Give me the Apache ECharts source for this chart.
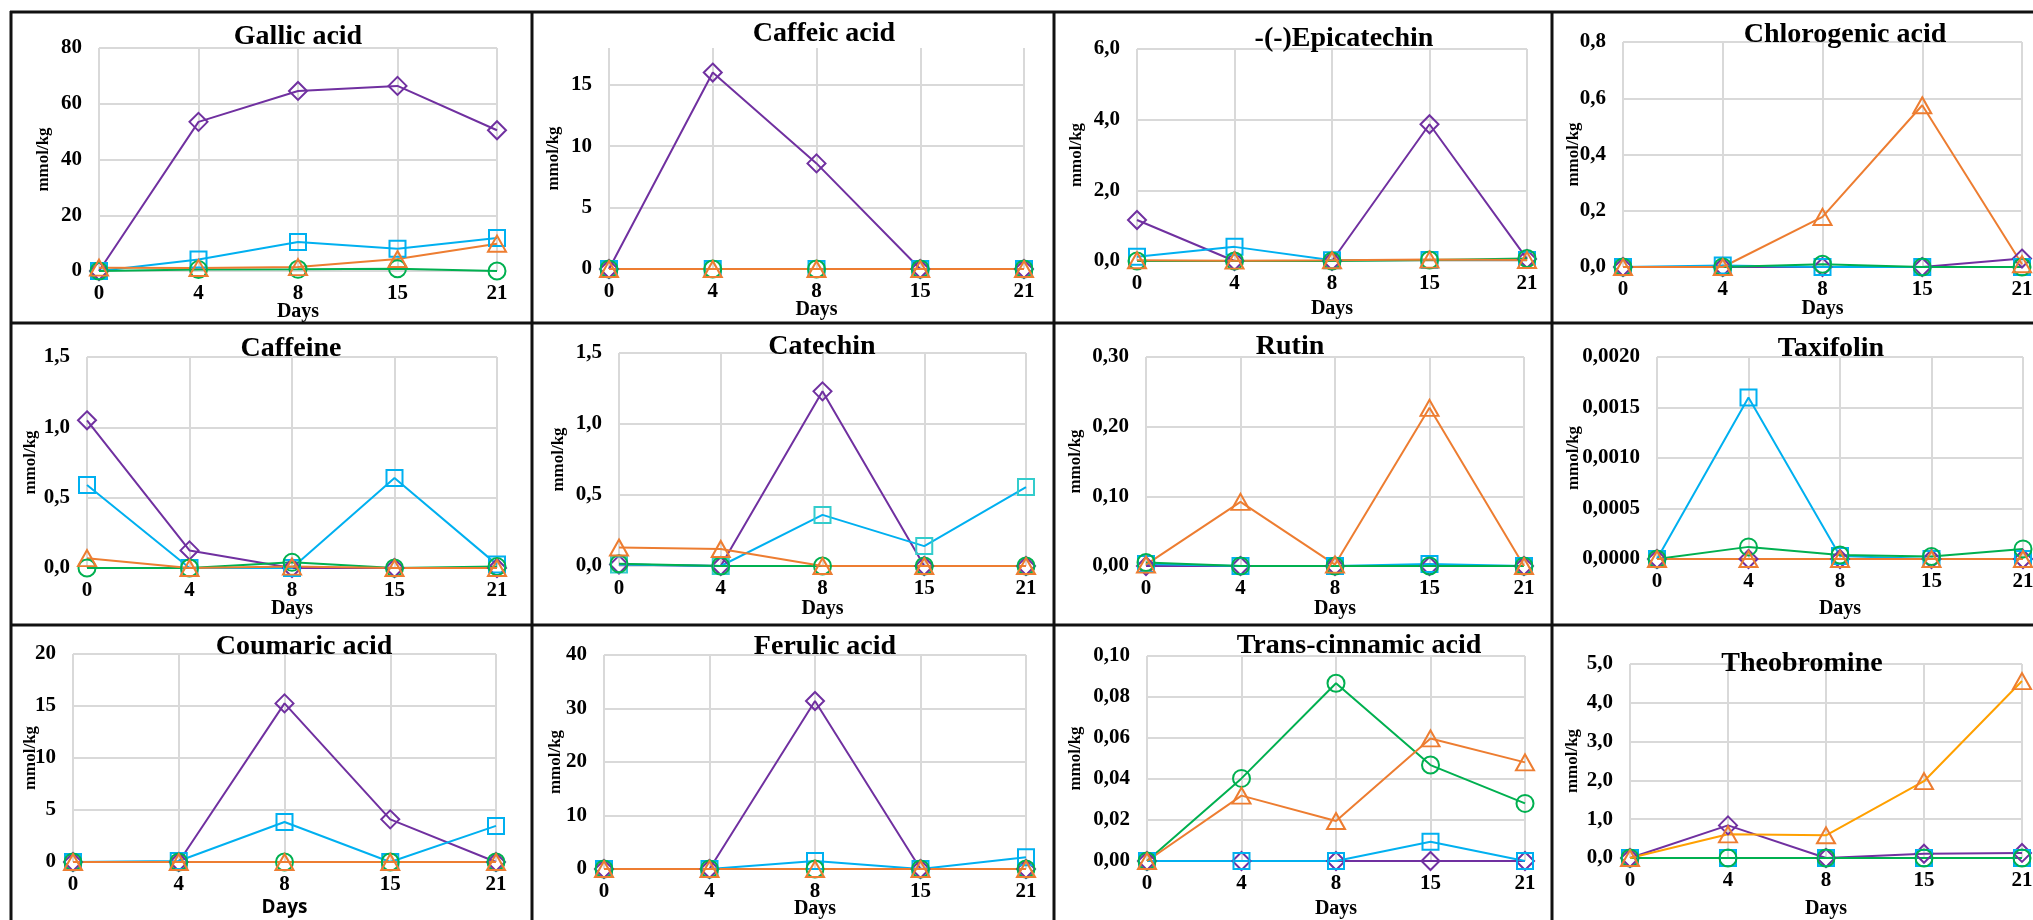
<!DOCTYPE html>
<html>
<head>
<meta charset="utf-8">
<script src="https://cdn.jsdelivr.net/npm/echarts@6/dist/echarts.min.js"></script>
<style>
html,body{margin:0;padding:0;background:#fff;}
#chart{width:2033px;height:920px;}
</style>
</head>
<body>
<div id="chart"></div>
<script>
// ---------- data ----------
const days = ['0', '4', '8', '15', '21'];
const compounds = ['Gallic acid', 'Caffeic acid', '-(-)Epicatechin', 'Chlorogenic acid',
  'Caffeine', 'Catechin', 'Rutin', 'Taxifolin',
  'Coumaric acid', 'Ferulic acid', 'Trans-cinnamic acid', 'Theobromine'];
const seriesKeys = ['purple', 'blue', 'orange', 'green'];
// each compound: [purple diamond, blue square, orange triangle, green circle]
const gallicAcid = [
  [0, 53.5, 64.6, 66.4, 50.5],
  [0, 4.1, 10.4, 8.0, 11.8],
  [1.2, 1.1, 1.4, 4.3, 9.8],
  [0, 0.5, 0.6, 0.8, 0]
];
const caffeicAcid = [
  [0, 16.0, 8.6, 0, 0],
  [0, 0, 0, 0, 0],
  [0, 0, 0, 0, 0],
  [0, 0, 0, 0, 0]
];
const epicatechin = [
  [1.16, 0, 0, 3.87, 0.06],
  [0.12, 0.40, 0.02, 0.03, 0.03],
  [0.02, 0.01, 0.02, 0.04, 0.03],
  [0, 0, 0, 0.03, 0.07]
];
const chlorogenicAcid = [
  [0, 0, 0, 0, 0.03],
  [0, 0.005, 0, 0, 0],
  [0, 0, 0.178, 0.575, 0.01],
  [0, 0, 0.01, 0, 0]
];
const caffeine = [
  [1.05, 0.125, 0, 0, 0],
  [0.59, 0, 0, 0.64, 0.024],
  [0.07, 0, 0.01, 0, 0],
  [0, 0, 0.04, 0, 0.01]
];
const catechin = [
  [0.01, 0, 1.23, 0, 0],
  [0.01, 0, 0.36, 0.14, 0.556],
  [0.13, 0.12, 0, 0, 0],
  [0.015, 0, 0, 0, 0]
];
const rutin = [
  [0, 0, 0, 0, 0],
  [0.003, 0, 0, 0.003, 0],
  [0.002, 0.092, 0.002, 0.227, 0],
  [0.005, 0, 0, 0, 0]
];
const taxifolin = [
  [0, 0, 0, 0, 0],
  [0, 0.0016, 0.00003, 0, 0],
  [0, 0, 0, 0, 0],
  [0, 0.00012, 0.00004, 0.000025, 0.0001]
];
const coumaricAcid = [
  [0, 0, 15.25, 4.1, 0],
  [0, 0.1, 3.85, 0, 3.47],
  [0, 0, 0, 0, 0],
  [0, 0, 0, 0, 0]
];
const ferulicAcid = [
  [0, 0, 31.4, 0, 0],
  [0, 0, 1.5, 0, 2.2],
  [0, 0, 0, 0, 0],
  [0, 0, 0, 0, 0]
];
const transCinnamicAcid = [
  [0, 0, 0, 0, 0],
  [0, 0, 0, 0.0094, 0],
  [0, 0.0319, 0.0195, 0.0598, 0.0481],
  [0, 0.0403, 0.0867, 0.0468, 0.0281]
];
const theobromine = [
  [0, 0.84, 0, 0.11, 0.13],
  [0, 0, 0, 0, 0],
  [0, 0.61, 0.585, 1.98, 4.56],
  [0, 0, 0, 0, 0]
];
const panelData = [gallicAcid, caffeicAcid, epicatechin, chlorogenicAcid,
  caffeine, catechin, rutin, taxifolin,
  coumaricAcid, ferulicAcid, transCinnamicAcid, theobromine];
// y axis ticks
const yMax = [80, 18, 6, 0.8, 1.5, 1.5, 0.3, 0.002, 20, 40, 0.1, 5];
const yStep = [20, 5, 2, 0.2, 0.5, 0.5, 0.1, 0.0005, 5, 10, 0.02, 1];
const yDecimals = [0, 0, 1, 1, 1, 1, 2, 4, 0, 0, 2, 1];
const yAxisTitle = 'mmol/kg';
const xAxisTitle = 'Days';

// ---------- layout & style ----------
const plotBox = [ // [left, right, top, bottom] in px
  [99, 497, 48, 271], [609, 1024, 48, 269], [1137, 1527, 49, 261], [1623, 2022, 42, 267],
  [87, 497, 357, 568], [619, 1026, 353, 566], [1146, 1524, 357, 566], [1657, 2023, 357, 559],
  [73, 496, 654, 862], [604, 1026, 655, 869], [1147, 1525, 656, 861], [1630, 2022, 664, 858]
];
const titlePos = [
  [298, 37], [824, 34], [1344, 39], [1845, 35],
  [291, 349], [822, 347], [1290, 347], [1831, 349],
  [304, 647], [825, 647], [1359, 646], [1802, 664]
];
const xNameGap = [31, 31, 38, 32, 31, 33, 33, 40, 36, 30, 38, 41];
const yNameGap = [47, 47, 52, 41, 48, 52, 62, 75, 34, 40, 63, 49];
const colors = {purple: '#7030A0', blue: '#00B0F0', orange: '#ED7D31', green: '#00B050'};
const symbols = {purple: 'diamond', blue: 'rect', orange: 'triangle', green: 'circle'};
const symbolSizes = {purple: 18, blue: 16, orange: [18, 16], green: 17};
const drawOrder = [0, 1, 3, 2];
const FONT = '"Liberation Serif", "Times New Roman", serif';
const GRID_COLOR = '#D9D9D9';

const option = {
  animation: false,
  backgroundColor: '#ffffff',
  grid: [], xAxis: [], yAxis: [], series: [], graphic: []
};

for (let i = 0; i < 12; i++) {
  const [l, r, t, b] = plotBox[i];
  option.grid.push({left: l, top: t, width: r - l, height: b - t, containLabel: false, outerBoundsMode: 'none'});
  option.xAxis.push({
    type: 'category', gridIndex: i, data: days, boundaryGap: false,
    axisLine: {show: false}, axisTick: {show: false},
    splitLine: {show: true, lineStyle: {color: GRID_COLOR, width: 2}},
    axisLabel: {color: '#000', fontFamily: FONT, fontWeight: 'bold', fontSize: 21, margin: 12},
    name: xAxisTitle, nameLocation: 'middle', nameGap: xNameGap[i], nameMoveOverlap: false,
    nameTextStyle: {color: '#000', fontFamily: i === 8 ? '"Open Sans", "Noto Sans", sans-serif' : FONT,
      fontWeight: 'bold', fontSize: i === 8 ? 19 : 20}
  });
  const dec = yDecimals[i];
  option.yAxis.push({
    type: 'value', gridIndex: i, min: 0, max: yMax[i], interval: yStep[i],
    axisLine: {show: false}, axisTick: {show: false},
    splitLine: {show: true, showMaxLine: i !== 1, lineStyle: {color: GRID_COLOR, width: 2}},
    axisLabel: {color: '#000', fontFamily: FONT, fontWeight: 'bold', fontSize: 21, margin: 17,
      showMaxLabel: i !== 1,
      formatter: v => (i === 1 && v > 15) ? '' : Number(v).toFixed(dec).replace('.', ',')},
    name: yAxisTitle, nameLocation: 'middle', nameRotate: 90, nameGap: yNameGap[i], nameMoveOverlap: false,
    nameTextStyle: {color: '#000', fontFamily: FONT, fontWeight: 'bold', fontSize: 17}
  });
  drawOrder.forEach(j => {
    const key = seriesKeys[j];
    let lineColor = colors[key];
    let markColor = colors[key];
    if (i === 11 && key === 'orange') lineColor = '#FFA000';
    if (i === 5 && key === 'blue') markColor = '#33CCCC';
    option.series.push({
      type: 'line', name: key, xAxisIndex: i, yAxisIndex: i,
      data: panelData[i][j],
      symbol: symbols[key], symbolSize: symbolSizes[key], showAllSymbol: true,
      clip: false, silent: true,
      lineStyle: {color: lineColor, width: 2},
      itemStyle: {color: 'rgba(255,255,255,0)', borderColor: markColor, borderWidth: 2},
      emphasis: {disabled: true}
    });
  });
  option.graphic.push({
    type: 'text', x: titlePos[i][0], y: titlePos[i][1], z: 100,
    style: {text: compounds[i], align: 'center', verticalAlign: 'middle',
      font: 'bold 28px ' + FONT, fill: '#000'}
  });
}
// panel borders
const hLines = [12, 323, 625];
const vLines = [11, 532, 1054, 1552];
hLines.forEach(y => option.graphic.push({type: 'line', shape: {x1: 10, y1: y, x2: 2033, y2: y},
  style: {stroke: '#111', lineWidth: 3}, z: 90}));
vLines.forEach(x => option.graphic.push({type: 'line', shape: {x1: x, y1: 11, x2: x, y2: 920},
  style: {stroke: '#111', lineWidth: 3}, z: 90}));

const chart = echarts.init(document.getElementById('chart'), null, {renderer: 'canvas'});
chart.setOption(option);
</script>
</body>
</html>
